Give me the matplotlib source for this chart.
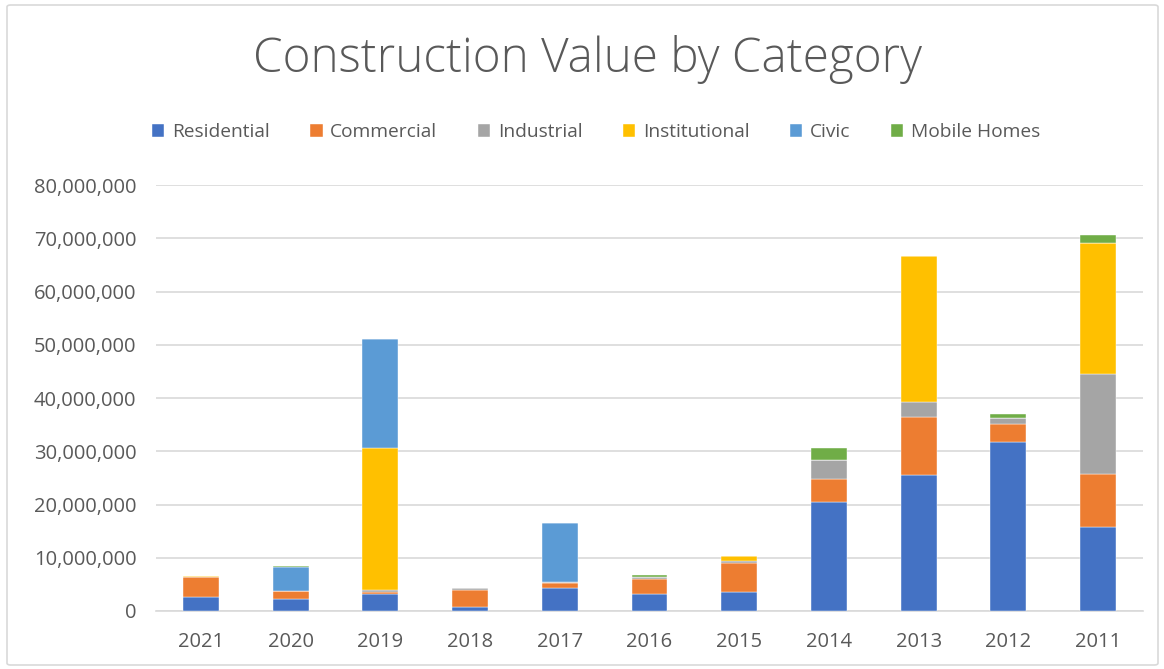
import matplotlib
matplotlib.use("Agg")
import matplotlib.pyplot as plt
import numpy as np
from matplotlib.ticker import FuncFormatter, MultipleLocator
from matplotlib.patches import FancyBboxPatch

years = ["2021", "2020", "2019", "2018", "2017", "2016", "2015", "2014", "2013", "2012", "2011"]
residential   = [2.7, 2.2, 3.2, 0.75, 4.4, 3.1, 3.6, 20.5, 25.5, 31.8, 15.7]
commercial    = [3.6, 1.5, 0.45, 3.15, 0.86, 2.9, 5.36, 4.3, 10.9, 3.4, 10.1]
industrial    = [0.0, 0.0, 0.25, 0.5, 0.25, 0.44, 0.44, 3.6, 2.85, 1.1, 18.7]
institutional = [0.25, 0.0, 26.8, 0.0, 0.0, 0.0, 0.9, 0.0, 27.4, 0.0, 24.55]
civic         = [0.0, 4.56, 20.3, 0.0, 11.1, 0.0, 0.0, 0.0, 0.0, 0.0, 0.0]
mobile_homes  = [0.0, 0.2, 0.0, 0.0, 0.0, 0.26, 0.0, 2.15, 0.0, 0.75, 1.55]

series_names = ["Residential", "Commercial", "Industrial", "Institutional", "Civic", "Mobile Homes"]
colors = ["#4472C4", "#ED7D31", "#A5A5A5", "#FFC000", "#5B9BD5", "#70AD47"]

plt.rcParams['font.family'] = ['Open Sans', 'DejaVu Sans']

fig = plt.figure(figsize=(11.64, 6.69), dpi=100)
W, H = 1164, 669
ax = fig.add_axes([156 / W, 1 - 611 / H, (1143 - 156) / W, (611 - 185) / H])

# chart border
border = FancyBboxPatch((7 / W, 4 / H), (1158 - 7) / W, (664 - 4) / H,
                        boxstyle="round,pad=0,rounding_size=0.003",
                        transform=fig.transFigure, fill=False,
                        edgecolor="#D9D9D9", linewidth=1.2)
fig.patches.append(border)

x = np.arange(len(years))
bottom = np.zeros(len(years))
data = [residential, commercial, industrial, institutional, civic, mobile_homes]
for name, vals, c in zip(series_names, data, colors):
    v = np.array(vals) * 1e6
    ax.bar(x, v, 0.4, bottom=bottom, color=c, label=name, zorder=3,
           edgecolor="white", linewidth=0.3)
    bottom += v

ax.set_xlim(-0.5, len(years) - 0.5)
ax.set_ylim(0, 80e6)
ax.yaxis.set_major_locator(MultipleLocator(10e6))
ax.yaxis.set_major_formatter(FuncFormatter(lambda v, p: f"{int(v):,}"))
ax.set_xticks(x)
ax.set_xticklabels(years)
ax.grid(axis='y', color="#D9D9D9", linewidth=1.2, zorder=0)
for s in ["top", "right", "left"]:
    ax.spines[s].set_visible(False)
ax.spines["bottom"].set_color("#D9D9D9")
ax.spines["bottom"].set_linewidth(1.2)
ax.tick_params(axis='both', length=0, labelsize=14.5, colors="#595959")
ax.tick_params(axis='y', pad=14)
ax.tick_params(axis='x', pad=15)

fig.text(0.505, 1 - 59 / H, "Construction Value by Category", ha="center", va="center",
         fontsize=34.3, color="#595959", fontweight="light")

leg = fig.legend(loc="center", bbox_to_anchor=(0.512, 1 - 132 / H), ncol=6,
                 frameon=False, fontsize=13.8, handlelength=0.65, handleheight=0.65,
                 handletextpad=0.4, columnspacing=2.1)
for t in leg.get_texts():
    t.set_color("#595959")

fig.savefig("out.png", dpi=100)
